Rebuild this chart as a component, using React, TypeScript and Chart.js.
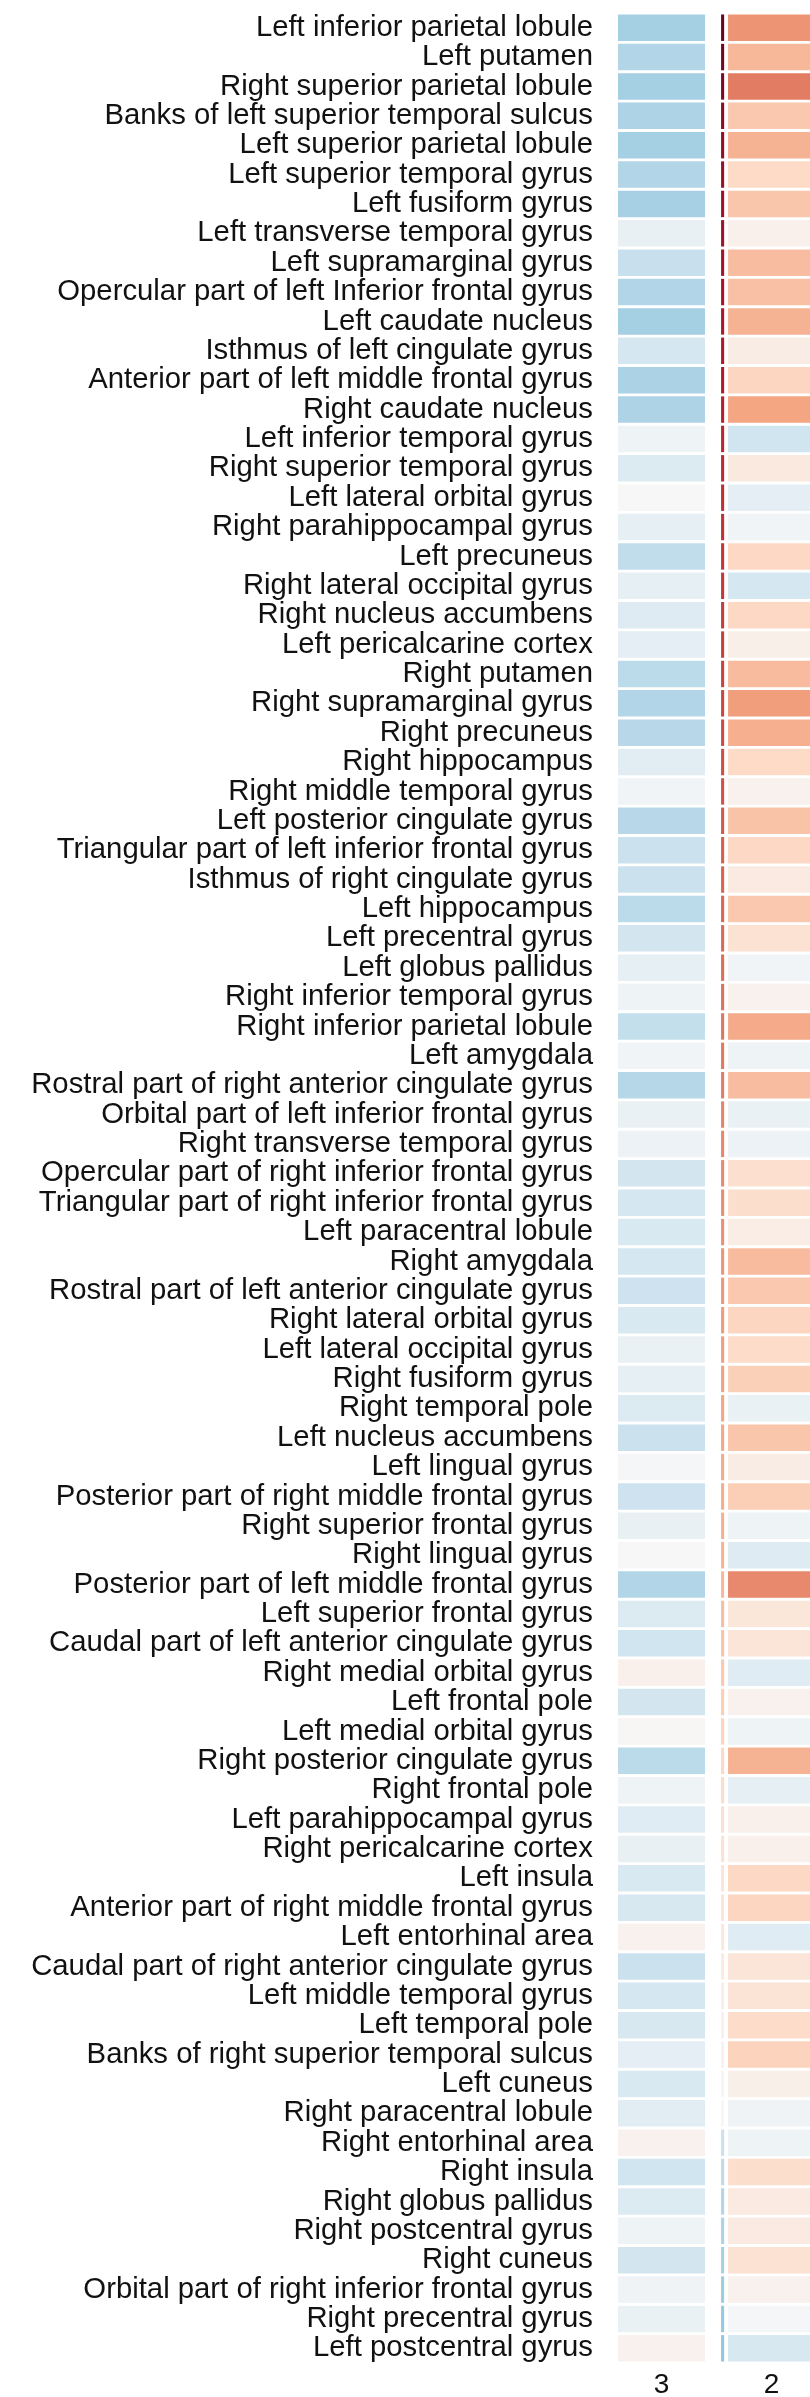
import { useEffect, useRef } from 'react';
import { Chart, registerables } from 'chart.js';

Chart.register(...registerables);

const REGIONS: string[] = [
  'Left inferior parietal lobule',
  'Left putamen',
  'Right superior parietal lobule',
  'Banks of left superior temporal sulcus',
  'Left superior parietal lobule',
  'Left superior temporal gyrus',
  'Left fusiform gyrus',
  'Left transverse temporal gyrus',
  'Left supramarginal gyrus',
  'Opercular part of left Inferior frontal gyrus',
  'Left caudate nucleus',
  'Isthmus of left cingulate gyrus',
  'Anterior part of left middle frontal gyrus',
  'Right caudate nucleus',
  'Left inferior temporal gyrus',
  'Right superior temporal gyrus',
  'Left lateral orbital gyrus',
  'Right parahippocampal gyrus',
  'Left precuneus',
  'Right lateral occipital gyrus',
  'Right nucleus accumbens',
  'Left pericalcarine cortex',
  'Right putamen',
  'Right supramarginal gyrus',
  'Right precuneus',
  'Right hippocampus',
  'Right middle temporal gyrus',
  'Left posterior cingulate gyrus',
  'Triangular part of left inferior frontal gyrus',
  'Isthmus of right cingulate gyrus',
  'Left hippocampus',
  'Left precentral gyrus',
  'Left globus pallidus',
  'Right inferior temporal gyrus',
  'Right inferior parietal lobule',
  'Left amygdala',
  'Rostral part of right anterior cingulate gyrus',
  'Orbital part of left inferior frontal gyrus',
  'Right transverse temporal gyrus',
  'Opercular part of right inferior frontal gyrus',
  'Triangular part of right inferior frontal gyrus',
  'Left paracentral lobule',
  'Right amygdala',
  'Rostral part of left anterior cingulate gyrus',
  'Right lateral orbital gyrus',
  'Left lateral occipital gyrus',
  'Right fusiform gyrus',
  'Right temporal pole',
  'Left nucleus accumbens',
  'Left lingual gyrus',
  'Posterior part of right middle frontal gyrus',
  'Right superior frontal gyrus',
  'Right lingual gyrus',
  'Posterior part of left middle frontal gyrus',
  'Left superior frontal gyrus',
  'Caudal part of left anterior cingulate gyrus',
  'Right medial orbital gyrus',
  'Left frontal pole',
  'Left medial orbital gyrus',
  'Right posterior cingulate gyrus',
  'Right frontal pole',
  'Left parahippocampal gyrus',
  'Right pericalcarine cortex',
  'Left insula',
  'Anterior part of right middle frontal gyrus',
  'Left entorhinal area',
  'Caudal part of right anterior cingulate gyrus',
  'Left middle temporal gyrus',
  'Left temporal pole',
  'Banks of right superior temporal sulcus',
  'Left cuneus',
  'Right paracentral lobule',
  'Right entorhinal area',
  'Right insula',
  'Right globus pallidus',
  'Right postcentral gyrus',
  'Right cuneus',
  'Orbital part of right inferior frontal gyrus',
  'Right precentral gyrus',
  'Left postcentral gyrus',
];

// Column "3"
const VALUES_3: number[] = [
  -0.34, -0.30, -0.34, -0.31, -0.34, -0.30, -0.33, -0.08, -0.23, -0.30,
  -0.34, -0.18, -0.32, -0.31, -0.05, -0.14, 0.0, -0.09, -0.25, -0.09,
  -0.13, -0.10, -0.27, -0.30, -0.28, -0.11, -0.03, -0.28, -0.22, -0.22,
  -0.27, -0.19, -0.09, -0.05, -0.24, -0.03, -0.29, -0.07, -0.06, -0.19,
  -0.18, -0.16, -0.18, -0.21, -0.16, -0.07, -0.09, -0.14, -0.22, -0.01,
  -0.21, -0.08, 0.0, -0.30, -0.14, -0.20, 0.05, -0.19, 0.01, -0.27,
  -0.05, -0.12, -0.08, -0.16, -0.17, 0.04, -0.22, -0.18, -0.17, -0.10,
  -0.16, -0.11, 0.04, -0.20, -0.14, -0.05, -0.19, -0.04, -0.07, 0.04,
];

// Narrow unlabeled column between "3" and "2"
const VALUES_STRIP: number[] = [
  0.98, 0.96, 0.94, 0.90, 0.88, 0.87, 0.86, 0.85, 0.84, 0.83,
  0.82, 0.81, 0.80, 0.78, 0.76, 0.75, 0.74, 0.73, 0.72, 0.71,
  0.70, 0.69, 0.68, 0.67, 0.66, 0.65, 0.64, 0.62, 0.60, 0.59,
  0.58, 0.57, 0.56, 0.55, 0.54, 0.53, 0.52, 0.50, 0.49, 0.48,
  0.47, 0.46, 0.45, 0.44, 0.43, 0.42, 0.41, 0.40, 0.39, 0.38,
  0.37, 0.36, 0.35, 0.33, 0.31, 0.29, 0.27, 0.25, 0.23, 0.21,
  0.19, 0.17, 0.15, 0.13, 0.12, 0.11, 0.09, 0.07, 0.05, 0.04,
  0.02, 0.0, -0.22, -0.26, -0.30, -0.32, -0.34, -0.36, -0.38, -0.40,
];

// Column "2"
const VALUES_2: number[] = [
  0.45, 0.33, 0.52, 0.27, 0.35, 0.20, 0.28, 0.05, 0.31, 0.30,
  0.35, 0.08, 0.22, 0.40, -0.20, 0.10, -0.10, -0.03, 0.21, -0.18,
  0.21, 0.06, 0.32, 0.42, 0.36, 0.20, 0.04, 0.29, 0.21, 0.09,
  0.27, 0.15, -0.03, 0.04, 0.38, -0.05, 0.31, -0.07, -0.06, 0.17,
  0.18, 0.07, 0.32, 0.27, 0.22, 0.19, 0.24, -0.07, 0.28, 0.08,
  0.25, -0.05, -0.13, 0.48, 0.12, 0.13, -0.12, 0.04, -0.05, 0.35,
  -0.09, 0.05, 0.05, 0.21, 0.22, -0.12, 0.13, 0.14, 0.19, 0.23,
  0.06, -0.04, -0.05, 0.18, 0.09, 0.09, 0.15, 0.04, -0.01, -0.17,
];

const COLUMN_LABELS: string[] = ['3', '', '2'];
const COLUMN_SPANS: [number, number][] = [
  [0, 1],
  [1.185, 1.22],
  [1.265, 2.265],
];
const X_MAX = 2.207;

const RDBU: string[] = [
  '#053061', '#2166ac', '#4393c3', '#92c5de', '#d1e5f0', '#f7f7f7',
  '#fddbc7', '#f4a582', '#d6604d', '#b2182b', '#67001f',
];

function hexToRgb(h: string): number[] {
  const n = parseInt(h.slice(1), 16);
  return [(n >> 16) & 255, (n >> 8) & 255, n & 255];
}

function colorFor(v: number): string {
  const t = Math.max(-1, Math.min(1, v));
  const pos = ((t + 1) / 2) * (RDBU.length - 1);
  const i = Math.min(Math.floor(pos), RDBU.length - 2);
  const f = pos - i;
  const a = hexToRgb(RDBU[i]);
  const b = hexToRgb(RDBU[i + 1]);
  const c = a.map((x, k) => Math.round(x + (b[k] - x) * f));
  return `rgb(${c[0]},${c[1]},${c[2]})`;
}

const FONT_FAMILY = '"Liberation Sans", Arial, Helvetica, sans-serif';

export default function App() {
  const ref = useRef<HTMLCanvasElement | null>(null);

  useEffect(() => {
    document.body.style.margin = '0';
    const canvas = ref.current;
    if (!canvas) return;
    const series = [VALUES_3, VALUES_STRIP, VALUES_2];
    const tickLabels = COLUMN_LABELS.filter((l) => l !== '');
    const tickValues = COLUMN_SPANS.map((s) => (s[0] + s[1]) / 2).filter(
      (_, i) => COLUMN_LABELS[i] !== ''
    );

    const chart = new Chart(canvas, {
      type: 'bar',
      data: {
        labels: REGIONS,
        datasets: series.map((vals, c) => ({
          label: COLUMN_LABELS[c] || 'strip',
          data: vals.map(() => COLUMN_SPANS[c]),
          backgroundColor: vals.map(colorFor),
          borderWidth: 0,
          barPercentage: 0.9,
          categoryPercentage: 1,
          grouped: false,
        })),
      } as any,
      options: {
        indexAxis: 'y',
        responsive: false,
        animation: false,
        layout: { padding: { top: 13, right: 0, bottom: 0, left: 0 } },
        plugins: {
          legend: { display: false },
          tooltip: { enabled: false },
        },
        scales: {
          y: {
            type: 'category',
            position: 'left',
            grid: { display: false, drawTicks: false },
            border: { display: false },
            ticks: {
              autoSkip: false,
              padding: 25,
              color: '#111',
              font: { family: FONT_FAMILY, size: 29.3, lineHeight: 1 },
            },
            afterFit: (s: any) => {
              s.width = 618;
              s.paddingTop = 0;
              s.paddingBottom = 0;
            },
          },
          x: {
            type: 'linear',
            position: 'bottom',
            min: 0,
            max: X_MAX,
            grid: { display: false, drawTicks: false },
            border: { display: false },
            afterBuildTicks: (s: any) => {
              s.ticks = tickValues.map((v) => ({ value: v }));
            },
            ticks: {
              autoSkip: false,
              maxRotation: 0,
              padding: 5,
              color: '#111',
              font: { family: FONT_FAMILY, size: 28, lineHeight: 1.2 },
              callback: (_v: any, i: number) => tickLabels[i],
            },
            afterFit: (s: any) => {
              s.height = 34;
              s.paddingLeft = 0;
              s.paddingRight = 0;
            },
          },
        },
      } as any,
    });
    return () => chart.destroy();
  }, []);

  return (
    <canvas
      ref={ref}
      width={810}
      height={2397}
      style={{ display: 'block', width: 810, height: 2397 }}
    />
  );
}
